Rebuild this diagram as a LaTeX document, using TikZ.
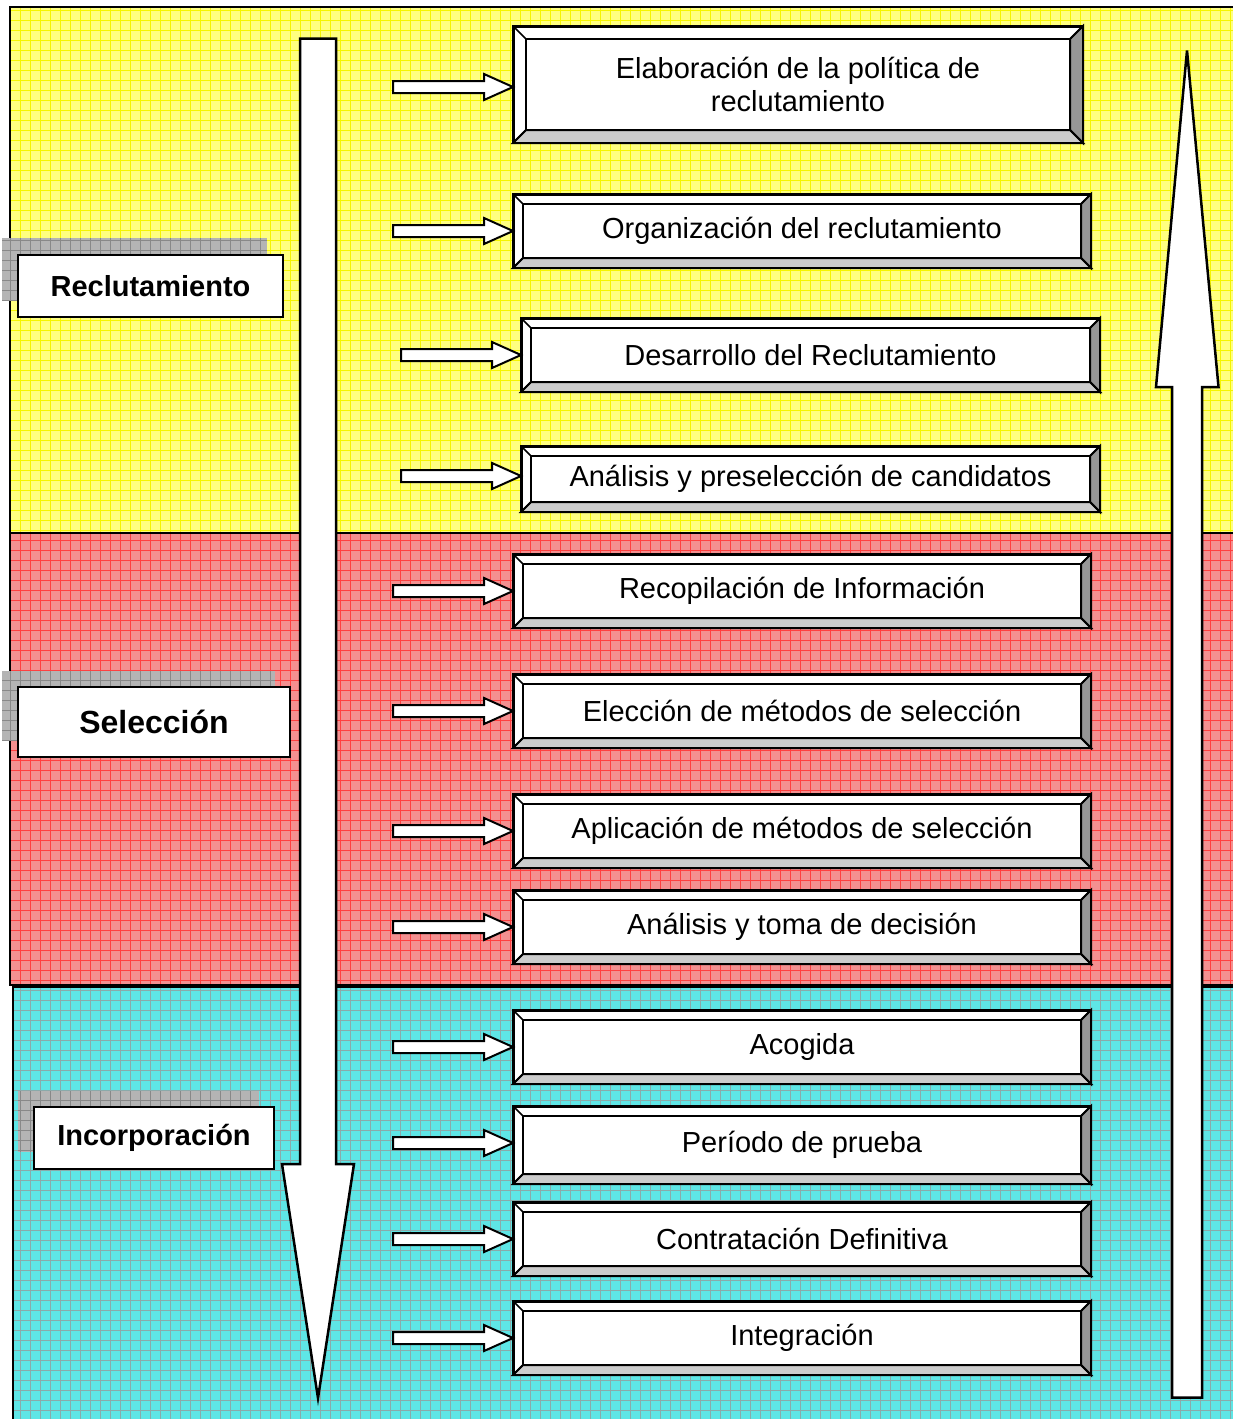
\documentclass[tikz,border=0pt]{standalone}
\usepackage{fontspec}
\setmainfont{Liberation Sans}
\usetikzlibrary{calc}
\definecolor{yel}{HTML}{FFFF80}
\definecolor{yelgrid}{HTML}{F5F500}
\definecolor{redf}{HTML}{F49090}
\definecolor{redgrid}{HTML}{FF4040}
\definecolor{cyf}{HTML}{5EE6E6}
\definecolor{cygrid}{HTML}{8AAAAA}
\definecolor{bevdark}{HTML}{969696}
\definecolor{bevlight}{HTML}{CCCCCC}
\definecolor{shadowf}{HTML}{B4B4B4}
\definecolor{shadowgrid}{HTML}{888888}
\tikzset{
  bev/.style={draw, line width=2pt, fill=white, inner sep=0pt, align=center,
    font=\fontsize{29}{33}\selectfont},
  lab/.style={draw, line width=2pt, fill=white, inner sep=0pt,
    font=\fontsize{29}{33}\selectfont\bfseries},
  bigarrow/.style={draw, fill=white, line width=2.5pt, line join=miter},
  smallarrow/.style={draw, fill=white, line width=2pt, line join=miter},
  bandline/.style={draw=black, line width=2pt}
}
% bevel decoration around a named node: #1 node, #2 inset
\newcommand\bevel[2]{%
  \filldraw[fill=bevdark, line width=2pt, line join=miter]
    (#1.north east) -- (#1.south east) -- ($(#1.south east)+(-#2,-#2)$)
    -- ($(#1.north east)+(-#2,#2)$) -- cycle;
  \filldraw[fill=bevlight, line width=2pt, line join=miter]
    (#1.south west) -- (#1.south east) -- ($(#1.south east)+(-#2,-#2)$)
    -- ($(#1.south west)+(#2,-#2)$) -- cycle;
  \draw[line width=2pt] ($(#1.north west)+(#2,#2)$) rectangle ($(#1.south east)+(-#2,-#2)$);
  \draw[line width=1.5pt] (#1.north west) -- ($(#1.north west)+(#2,#2)$)
    (#1.north east) -- ($(#1.north east)+(-#2,#2)$)
    (#1.south west) -- ($(#1.south west)+(#2,-#2)$)
    (#1.south east) -- ($(#1.south east)+(-#2,-#2)$);
  \draw[line width=2pt] (#1.north west) rectangle (#1.south east);
}
% small block arrow ending at a point given by #1
\newcommand\smallarr[1]{%
  \path[smallarrow] ($#1+(-120,-6)$) -- ($#1+(-29,-6)$) -- ($#1+(-29,-13)$)
    -- #1 -- ($#1+(-29,13)$) -- ($#1+(-29,6)$) -- ($#1+(-120,6)$) -- cycle;
}
% grid-patterned rectangle: #1 fill, #2 grid colour, #3 x1, #4 y1, #5 x2, #6 y2
\newcommand\gridrect[6]{%
  \fill[#1] (#3,#4) rectangle (#5,#6);
  \begin{scope}
    \clip (#3,#4) rectangle (#5,#6);
    \foreach \gx in {0,10,...,1240} \draw[#2, line width=0.7pt] (\gx,#4) -- (\gx,#6);
    \foreach \gy in {0,10,...,1420} \draw[#2, line width=0.7pt] (#3,\gy) -- (#5,\gy);
  \end{scope}
}
\begin{document}
\begin{tikzpicture}[x=1pt, y=-1pt]
\useasboundingbox (0,0) rectangle (1233,1419);
\clip (0,0) rectangle (1233,1419);
\fill[white] (0,0) rectangle (1233,1419);

% bands
\gridrect{yel}{yelgrid}{10}{7}{1240}{533}
\draw[bandline] (10,7) rectangle (1240,533);
\gridrect{redf}{redgrid}{10}{533}{1240}{985}
\draw[bandline] (10,533) rectangle (1240,985);
\gridrect{cyf}{cygrid}{13}{987}{1240}{1425}
\draw[bandline] (13,987) rectangle (1240,1425);

% big down arrow
\path[bigarrow] (300,38.5) -- (336,38.5) -- (336,1164) -- (354,1164) -- (318,1398)
  -- (282,1164) -- (300,1164) -- cycle;

% label boxes with shadows
\gridrect{shadowf}{shadowgrid}{2}{238}{267}{300}
\node[lab, minimum width=265, minimum height=62] (lrec) at (150.5,286) {Reclutamiento};
\gridrect{shadowf}{shadowgrid}{2}{671}{275}{740}
\node[lab, minimum width=272, minimum height=70, font=\fontsize{32}{36}\selectfont\bfseries] (lsel) at (154,722) {Selección};
\gridrect{shadowf}{shadowgrid}{18}{1091}{259}{1152}
\node[lab, minimum width=240, minimum height=62] (linc) at (154,1138) {Incorporación};

% process boxes
\node[bev, minimum width=568, minimum height=115] (b1) at (798,84.5) {Elaboración de la política de\\reclutamiento};
\bevel{b1}{13}
\node[bev, minimum width=576, minimum height=72] (b2) at (802,231) {Organización del reclutamiento};
\bevel{b2}{10}
\node[bev, minimum width=577, minimum height=72] (b3) at (810.5,355) {Desarrollo del Reclutamiento};
\bevel{b3}{10}
\node[bev, minimum width=577, minimum height=64] (b4) at (810.5,479) {Análisis y preselección de candidatos};
\bevel{b4}{10}
\node[bev, minimum width=576, minimum height=72] (b5) at (802,591) {Recopilación de Información};
\bevel{b5}{10}
\node[bev, minimum width=576, minimum height=72] (b6) at (802,711) {Elección de métodos de selección};
\bevel{b6}{10}
\node[bev, minimum width=576, minimum height=72] (b7) at (802,831) {Aplicación de métodos de selección};
\bevel{b7}{10}
\node[bev, minimum width=576, minimum height=72] (b8) at (802,927) {Análisis y toma de decisión};
\bevel{b8}{10}
\node[bev, minimum width=576, minimum height=72] (b9) at (802,1047) {Acogida};
\bevel{b9}{10}
\node[bev, minimum width=576, minimum height=76] (b10) at (802,1145) {Período de prueba};
\bevel{b10}{10}
\node[bev, minimum width=576, minimum height=72] (b11) at (802,1239) {Contratación Definitiva};
\bevel{b11}{10}
\node[bev, minimum width=576, minimum height=72] (b12) at (802,1338) {Integración};
\bevel{b12}{10}

% small arrows into boxes
\smallarr{($(b1.west)+(0,2.5)$)}
\smallarr{(b2.west)}
\smallarr{(b3.west)}
\smallarr{($(b4.west)+(0,-3)$)}
\smallarr{(b5.west)}
\smallarr{(b6.west)}
\smallarr{(b7.west)}
\smallarr{(b8.west)}
\smallarr{(b9.west)}
\smallarr{($(b10.west)+(0,-2)$)}
\smallarr{(b11.west)}
\smallarr{(b12.west)}

% big up arrow
\path[bigarrow] (1172,1397.5) -- (1202,1397.5) -- (1202,387) -- (1218.5,387) -- (1187,50.5)
  -- (1156,387) -- (1172,387) -- cycle;
\end{tikzpicture}
\end{document}
